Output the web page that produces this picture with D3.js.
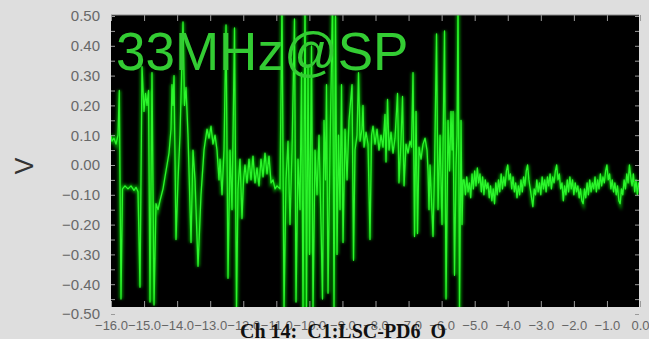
<!DOCTYPE html>
<html>
<head>
<meta charset="utf-8">
<script src="https://cdn.jsdelivr.net/npm/d3@7"></script>
<style>
  html, body { margin: 0; padding: 0; background: #dedede; }
  svg { display: block; }
</style>
</head>
<body>
<svg id="chart" width="649" height="339"></svg>
<script>
// Trace before the step (irregular samples, seconds / volts)
const wildT = [
  -16.000, -15.970, -15.909, -15.849, -15.788, -15.749, -15.698, -15.652, -15.577, -15.486,
  -15.395, -15.304, -15.244, -15.183, -15.123, -15.062, -15.002, -14.956, -14.911, -14.866,
  -14.820, -14.760, -14.699, -14.639, -14.578, -14.518, -14.427, -14.367, -14.306, -14.246,
  -14.185, -14.155, -14.125, -14.094, -14.034, -13.973, -13.913, -13.822, -13.777, -13.731,
  -13.671, -13.580, -13.520, -13.459, -13.368, -13.278, -13.187, -13.096, -13.036, -12.975,
  -12.915, -12.854, -12.794, -12.733, -12.703, -12.642, -12.582, -12.521, -12.461, -12.400,
  -12.340, -12.264, -12.204, -12.159, -12.098, -12.038, -11.992, -11.947, -11.886, -11.826,
  -11.765, -11.705, -11.644, -11.584, -11.523, -11.463, -11.402, -11.342, -11.281, -11.221,
  -11.160, -11.100, -11.039, -10.979, -10.888, -10.828, -10.767, -10.707, -10.646, -10.586,
  -10.525, -10.450, -10.404, -10.344, -10.283, -10.238, -10.192, -10.132, -10.087, -10.041,
  -9.996, -9.935, -9.890, -9.829, -9.769, -9.708, -9.648, -9.603, -9.557, -9.512,
  -9.482, -9.436, -9.376, -9.300, -9.255, -9.209, -9.164, -9.119, -9.073, -9.028,
  -8.982, -8.922, -8.861, -8.801, -8.710, -8.665, -8.620, -8.559, -8.514, -8.468,
  -8.408, -8.378, -8.347, -8.287, -8.226, -8.166, -8.120, -8.075, -8.015, -7.954,
  -7.894, -7.833, -7.773, -7.712, -7.682, -7.636, -7.591, -7.531, -7.470, -7.410,
  -7.334, -7.289, -7.228, -7.183, -7.137, -7.077, -7.016, -6.956, -6.910, -6.865,
  -6.820, -6.774, -6.729, -6.684, -6.623, -6.563, -6.502, -6.442, -6.411, -6.381,
  -6.351, -6.260, -6.215, -6.154, -6.109, -6.048, -5.988, -5.912, -5.867, -5.806,
  -5.761, -5.716, -5.685, -5.655, -5.610, -5.564, -5.534, -5.504, -5.459, -5.413,
  -5.383, -5.353
];
const wildV = [
  0.10, 0.08, 0.09, 0.07, 0.10, 0.25, -0.45, -0.08, -0.07, -0.08,
  -0.07, -0.085, -0.075, -0.09, -0.41, 0.33, 0.18, 0.24, 0.20, 0.25,
  -0.46, 0.31, -0.47, -0.13, -0.15, -0.12, -0.08, -0.04, 0.00, 0.04,
  0.12, 0.27, 0.20, 0.30, -0.25, -0.05, 0.10, 0.48, 0.20, 0.26,
  0.10, -0.26, 0.05, -0.05, -0.34, -0.10, 0.05, 0.12, 0.09, 0.13,
  0.07, 0.10, 0.05, -0.05, 0.02, -0.10, 0.05, 0.47, -0.38, 0.05,
  -0.15, 0.46, -0.49, -0.08, 0.02, -0.18, -0.05, 0.00, -0.06, 0.02,
  -0.05, 0.03, -0.06, -0.01, -0.07, 0.02, -0.04, 0.04, -0.03, 0.03,
  -0.06, -0.05, -0.08, -0.07, -0.08, 0.55, -0.49, -0.05, 0.08, -0.20,
  0.05, 0.49, -0.46, 0.02, -0.15, 0.31, -0.49, 0.55, -0.48, 0.33,
  -0.30, 0.40, -0.49, 0.05, -0.10, 0.10, -0.20, -0.45, 0.15, -0.05,
  0.27, -0.43, 0.05, 0.55, -0.49, 0.50, -0.30, 0.10, -0.15, 0.27,
  -0.26, 0.12, -0.05, 0.15, 0.27, -0.32, 0.05, 0.10, 0.31, 0.08,
  0.12, 0.20, 0.06, 0.11, 0.07, -0.25, 0.10, 0.13, 0.07, 0.12,
  0.05, 0.10, 0.06, 0.17, 0.01, 0.22, 0.05, 0.11, 0.04, 0.09,
  0.24, -0.06, 0.08, 0.23, -0.07, 0.07, 0.04, 0.08, 0.06, 0.31,
  -0.24, 0.18, -0.23, 0.06, 0.02, 0.07, 0.09, 0.05, -0.02, -0.15,
  0.00, -0.24, -0.02, 0.44, -0.15, 0.10, -0.20, 0.45, -0.45, 0.15,
  -0.02, 0.18, 0.05, 0.18, -0.37, 0.00, 0.10, 0.55, -0.49, 0.15,
  -0.20, -0.05
];

// Trace after the step, sampled every 40 ms
const noiseStart = -5.32;
const noiseStep = 0.04;
const noiseV = [
  -0.05, -0.10, -0.04, -0.09, -0.06, -0.11, -0.03, -0.08, -0.02, -0.07,
  -0.01, -0.06, -0.03, -0.09, -0.04, -0.10, -0.05, -0.08, -0.06, -0.11,
  -0.07, -0.12, -0.08, -0.13, -0.06, -0.10, -0.05, -0.09, -0.03, -0.08,
  -0.04, -0.07, -0.02, 0.00, -0.05, -0.03, -0.08, -0.04, -0.09, -0.06,
  -0.11, -0.07, -0.10, -0.05, -0.09, -0.04, -0.07, -0.02, 0.00, -0.05,
  -0.08, -0.11, -0.14, -0.08, -0.10, -0.05, -0.09, -0.06, -0.10, -0.04,
  -0.08, -0.05, -0.09, -0.04, -0.07, -0.03, -0.08, -0.04, -0.06, -0.02,
  0.00, -0.05, -0.03, -0.08, -0.06, -0.12, -0.07, -0.10, -0.05, -0.09,
  -0.04, -0.08, -0.05, -0.10, -0.06, -0.09, -0.07, -0.11, -0.08, -0.12,
  -0.13, -0.08, -0.11, -0.06, -0.10, -0.05, -0.09, -0.06, -0.08, -0.04,
  -0.09, -0.05, -0.08, -0.03, -0.07, -0.04, -0.06, -0.02, 0.00, -0.05,
  -0.03, -0.08, -0.05, -0.09, -0.06, -0.10, -0.07, -0.12, -0.13, -0.08,
  -0.10, -0.05, -0.08, -0.03, -0.06, 0.00, -0.04, -0.07, -0.03, -0.09,
  -0.05, -0.10, -0.06, -0.08
];

const xTicks = [-16, -15, -14, -13, -12, -11, -10, -9, -8, -7, -6, -5, -4, -3, -2, -1, 0];
const yLabels = [0.5, 0.4, 0.3, 0.2, 0.1, 0, -0.1, -0.2, -0.3, -0.4, -0.5];
const yMinor = [0.5, 0.45, 0.4, 0.35, 0.3, 0.25, 0.2, 0.15, 0.1, 0.05, 0, -0.05, -0.1,
  -0.15, -0.2, -0.25, -0.3, -0.35, -0.4, -0.45, -0.5];

const title = '33MHz@SP';
const channel = 'Ch 14:  C1:LSC-PD6_O';

const svg = d3.select('#chart');
const plot = { left: 111, right: 639, top: 15, bottom: 307 };

const x = d3.scaleLinear().domain([-16, 0]).range([111, 640]);
const y = d3.scaleLinear().domain([-0.5, 0.5]).range([314, 16]);

const trace = wildT.map((t, i) => ({ t, v: wildV[i] }))
  .concat(noiseV.map((v, i) => ({ t: noiseStart + i * noiseStep, v })));

const defs = svg.append('defs');
defs.append('clipPath').attr('id', 'plotClip')
  .append('rect')
  .attr('x', plot.left).attr('y', plot.top)
  .attr('width', plot.right - plot.left).attr('height', plot.bottom - plot.top);
defs.append('filter').attr('id', 'glow').attr('x', '-5%').attr('y', '-5%')
  .attr('width', '110%').attr('height', '110%')
  .append('feGaussianBlur').attr('stdDeviation', 1.5);

svg.append('rect')
  .attr('x', plot.left).attr('y', plot.top)
  .attr('width', plot.right - plot.left).attr('height', plot.bottom - plot.top)
  .attr('fill', '#000');

const line = d3.line().x(d => x(d.t)).y(d => y(d.v));

const g = svg.append('g').attr('clip-path', 'url(#plotClip)');
g.append('path').datum(trace)
  .attr('d', line)
  .attr('fill', 'none')
  .attr('stroke', '#00b400')
  .attr('stroke-width', 3.4)
  .attr('stroke-opacity', 0.85)
  .attr('filter', 'url(#glow)');
g.append('path').datum(trace)
  .attr('d', line)
  .attr('fill', 'none')
  .attr('stroke', '#2cf52c')
  .attr('stroke-width', 1.3)
  .attr('stroke-linejoin', 'round');

// ticks, drawn inward on all four sides
const tickStyle = sel => {
  sel.select('.domain').remove();
  sel.selectAll('.tick line').attr('stroke', '#9a9a9a');
};
svg.append('g').attr('transform', `translate(0,${plot.bottom})`)
  .call(d3.axisBottom(x).tickValues(xTicks).tickSizeInner(-6).tickSizeOuter(0)
    .tickPadding(14).tickFormat(d3.format('.1f')))
  .call(tickStyle)
  .call(a => a.selectAll('text').attr('fill', '#666')
    .style('font', '13px "Liberation Sans", Arial, sans-serif'));
svg.append('g').attr('transform', `translate(0,${plot.top})`)
  .call(d3.axisTop(x).tickValues(xTicks).tickSizeInner(-6).tickSizeOuter(0).tickFormat(''))
  .call(tickStyle);
svg.append('g').attr('transform', `translate(${plot.left},0)`)
  .call(d3.axisLeft(y).tickValues(yMinor).tickSizeInner(-4).tickSizeOuter(0).tickFormat(''))
  .call(tickStyle);
svg.append('g').attr('transform', `translate(${plot.right},0)`)
  .call(d3.axisRight(y).tickValues(yMinor).tickSizeInner(-4).tickSizeOuter(0).tickFormat(''))
  .call(tickStyle);
svg.append('g').attr('transform', `translate(${plot.left},0)`)
  .call(d3.axisLeft(y).tickValues(yLabels).tickSize(0).tickPadding(11).tickFormat(d3.format('.2f')))
  .call(a => a.select('.domain').remove())
  .call(a => a.selectAll('text').attr('fill', '#686868')
    .style('font', '15px "Liberation Sans", Arial, sans-serif'));

svg.append('rect')
  .attr('x', plot.left).attr('y', plot.top - 0.5)
  .attr('width', plot.right - plot.left).attr('height', 1)
  .attr('fill', '#8a8a8a');

svg.append('text')
  .attr('transform', 'translate(33,166) rotate(-90)')
  .attr('text-anchor', 'middle')
  .attr('fill', '#333')
  .style('font', '25px "Liberation Sans", Arial, sans-serif')
  .text('V');

svg.append('text')
  .attr('x', 116).attr('y', 70)
  .attr('fill', '#33cc33')
  .style('font', '53px "Liberation Sans", Arial, sans-serif')
  .text(title);

svg.append('text')
  .attr('x', 240).attr('y', 338)
  .attr('fill', '#111')
  .style('font', 'bold 20px "Liberation Serif", "Times New Roman", serif')
  .style('white-space', 'pre')
  .text(channel);
</script>
</body>
</html>
